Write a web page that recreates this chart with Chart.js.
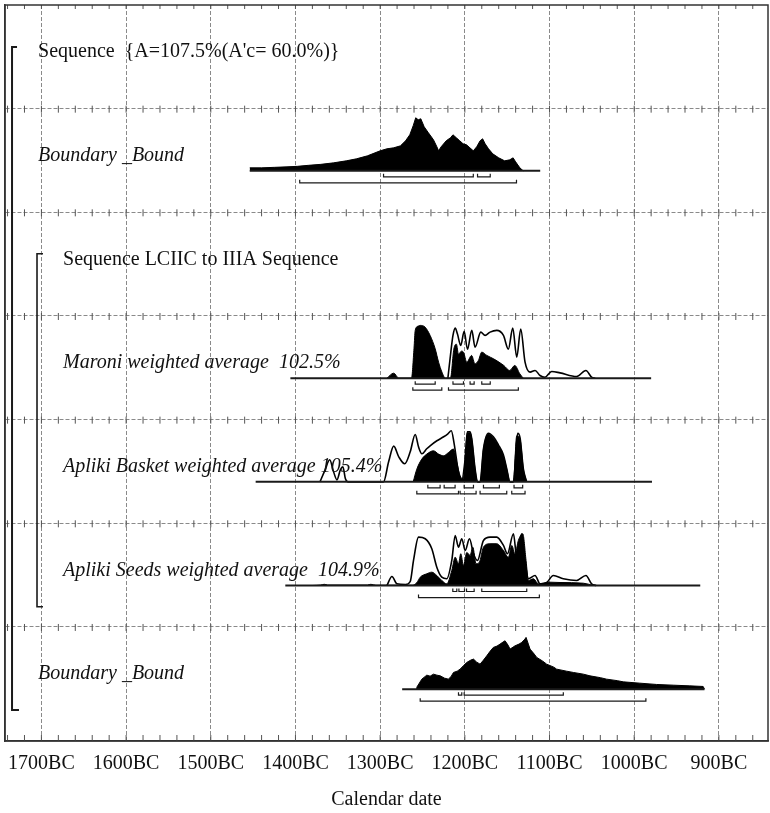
<!DOCTYPE html>
<html>
<head>
<meta charset="utf-8">
<script src="https://cdn.jsdelivr.net/npm/chart.js@4.4.1/dist/chart.umd.min.js"></script>
<style>
  html, body { margin: 0; padding: 0; background: #fff; }
</style>
</head>
<body>
<canvas id="chart" width="770" height="813"></canvas>
<script>
// row labels, top to bottom
const rowLabels = [
    "Sequence  {A=107.5%(A'c= 60.0%)}",
    "Boundary _Bound",
    "Sequence LCIIC to IIIA Sequence",
    "Maroni weighted average  102.5%",
    "Apliki Basket weighted average 105.4%",
    "Apliki Seeds weighted average  104.9%",
    "Boundary _Bound"
];
const rowItalic = [false, true, false, true, true, true, true];
const rowIndent = [0, 0, 1, 1, 1, 1, 0];

// x tick labels (years BC)
const tickYears = [1700, 1600, 1500, 1400, 1300, 1200, 1100, 1000, 900];

// [year BC, probability] pairs
const boundTopPost = [[1454, 3], [1440, 3], [1425, 3.5], [1410, 4], [1398, 4.5], [1385, 5.5], [1370, 6.5], [1355, 8], [1340, 10], [1328, 12], [1315, 15], [1300, 20], [1292, 22], [1284, 23], [1276, 25], [1270, 30], [1265, 36], [1261, 45], [1258, 53], [1255, 51], [1252, 52], [1248, 44], [1243, 38], [1237, 31], [1233, 24], [1231, 20], [1228, 24], [1222, 30], [1217, 33], [1214, 36], [1210, 33], [1206, 30], [1202, 27], [1198, 26], [1194, 23], [1190, 20], [1186, 24], [1182, 30], [1179, 32], [1176, 27], [1172, 22], [1167, 17], [1160, 13], [1153, 10], [1147, 11], [1143, 13], [1140, 9], [1135, 3], [1131, 0]];

const maroniPost = [[1292, 0], [1284, 5], [1278, 0], [1263, 0], [1260, 30], [1258.6, 47.7], [1255, 52], [1252.7, 52.7], [1247, 51], [1241, 42.7], [1235, 29.3], [1231, 16], [1227, 6], [1223, 0], [1217, 0], [1213, 29], [1210, 34], [1207.5, 24], [1204, 27], [1201.6, 26], [1197.7, 16], [1192, 22.7], [1188, 14.3], [1184, 17.7], [1180, 26], [1174, 22.7], [1166, 19.3], [1154, 12.7], [1147, 7.7], [1141, 12.7], [1135, 4.3], [1131, 0]];
const maroniLike = [[1220, 0], [1216, 30], [1214, 42.7], [1211.4, 50], [1208.7, 44], [1204.8, 32.7], [1200.8, 46.7], [1196.9, 29], [1191.8, 47.7], [1187.9, 31], [1181.2, 46], [1176.1, 42.7], [1170.2, 46], [1162.3, 47.7], [1154.4, 42.7], [1148.6, 29], [1143.4, 50], [1138.7, 21], [1134, 49], [1128.9, 16], [1123, 6], [1117.1, 7.7], [1111.2, 2.7], [1105.3, 1], [1097.5, 6.7], [1087.6, 5.3], [1068, 1.7], [1057, 7.7], [1050.3, 1], [1046, 0]];

const basketPost = [[1261, 0], [1256.7, 12.7], [1250.8, 22.7], [1244.9, 27.7], [1237, 31], [1231, 27.7], [1225, 26], [1219.3, 29.3], [1213.4, 32.7], [1209.5, 19.3], [1205.6, 6], [1202, 3], [1199, 30], [1197, 49], [1194, 49], [1191.8, 42.7], [1187.9, 12.7], [1185, 0], [1182, 0], [1178, 32.7], [1172.2, 47.7], [1166.3, 44], [1160.4, 36], [1154.5, 26], [1150.5, 12.7], [1146.6, 0], [1142.7, 0], [1138.7, 46], [1134.8, 42.7], [1130.9, 12.7], [1127, 0]];
const basketLike = [[1371, 0], [1365, 12], [1359.6, 22], [1355, 10], [1351, 2], [1347, 12], [1344, 15], [1341, 3], [1338, 0], [1296, 0], [1290, 20], [1284, 35.7], [1278, 25], [1271, 18], [1264.5, 30], [1258.6, 47.3], [1254.7, 35], [1250.7, 28], [1245, 33], [1241, 36], [1233, 41], [1225, 45], [1220, 48], [1216, 51], [1212.6, 38], [1207.5, 10], [1203.6, 2], [1200, 20], [1197, 50], [1193.8, 50], [1191.8, 43], [1187.9, 13], [1185, 0], [1182, 0], [1178, 33], [1172.2, 48.5], [1166.3, 45], [1160.4, 37], [1154.5, 27], [1150.5, 13], [1146.6, 0], [1142.7, 0], [1137.6, 48.5], [1134.8, 44], [1130.9, 13], [1127, 0]];

const seedsPost = [[1380, 0], [1370, 0.5], [1366, 1.2], [1362, 0.5], [1315, 0.5], [1311, 1.2], [1305, 0.3], [1262, 0.3], [1256.6, 3], [1252.7, 8.3], [1244.9, 11.7], [1239, 13.3], [1233.1, 10], [1227.2, 5], [1221.3, 1.7], [1215.4, 15], [1211.4, 28.3], [1207.5, 21.7], [1204.8, 31.7], [1201.6, 20], [1197.7, 33], [1193.8, 30], [1190.6, 38.3], [1186.7, 21.7], [1182.8, 23.3], [1178, 38.3], [1170.2, 41.7], [1162.3, 41.7], [1154.4, 35], [1148.6, 28.3], [1144.6, 40], [1140.7, 31.7], [1136.8, 45], [1131.6, 51.7], [1127.7, 25], [1124.9, 5], [1119, 6.7], [1113.2, 1.7], [1099.4, 3.3], [1087.6, 3], [1060, 2.3], [1048, 0]];
const seedsLike = [[1292, 0], [1286.1, 9], [1280.2, 1.7], [1270, 1], [1264.5, 4], [1260.6, 25], [1254.7, 48.3], [1246.8, 46.7], [1239, 36.7], [1233.1, 18.3], [1227.2, 8.3], [1221.3, 6.7], [1215.4, 25], [1211.4, 50], [1207.5, 38.3], [1203.6, 46.7], [1199.6, 35], [1194.5, 46.7], [1189.8, 31.7], [1185.1, 25], [1178, 45], [1170.2, 48.3], [1162.3, 48.3], [1154.4, 40], [1149.7, 31.7], [1142.6, 51.7], [1138.7, 28.3], [1132.8, 51.7], [1128.9, 25], [1124.9, 6.7], [1117.1, 10], [1111.2, 1.7], [1103.3, 3], [1095.5, 10], [1083.7, 6.7], [1068, 5], [1057, 10], [1050.3, 1.7], [1045, 0]];

const boundBotPost = [[1257, 0], [1256.7, 2], [1250.8, 10], [1244.9, 14], [1241, 13], [1237, 15], [1233, 14], [1229, 13.3], [1224, 11], [1219.3, 10], [1216, 13], [1213.4, 16.7], [1209, 18], [1205.6, 20], [1201, 24], [1197.7, 26.7], [1193, 29], [1189.8, 30], [1186, 27], [1182, 25], [1178, 29], [1174.1, 33.3], [1170, 38], [1166.3, 41.7], [1162, 43], [1158.4, 45], [1155, 47], [1152.5, 48.3], [1149, 44], [1146.6, 40], [1143, 42], [1140.7, 43.3], [1136, 45], [1132.8, 46.7], [1129, 50], [1127.7, 51.7], [1125, 45], [1123, 40], [1118, 35], [1115.1, 31.7], [1108, 28], [1103.4, 25], [1095, 22], [1091.6, 20], [1080, 18], [1071.9, 16.7], [1060, 15], [1052.2, 13.3], [1040, 11.5], [1032.6, 10], [1020, 8.5], [1012.9, 7.3], [993.3, 6], [973.6, 4.7], [954, 4], [934.3, 3.3], [918.6, 2.7], [917, 0]];

// baseline extent of each row (years BC)
const baseSpans = [null, [1454, 1111], null, [1406, 980], [1447, 979], [1412, 922], [1274, 917]];

// highest posterior density ranges (years BC)
const ranges68 = [null, [[1296, 1190], [1185, 1170]], null,
    [[1258.6, 1235], [1214, 1201.6], [1193.8, 1189], [1180, 1170]],
    [[1243.7, 1229.2], [1224.4, 1211.5], [1200.8, 1189.8], [1178, 1159.2], [1141.9, 1131.7]],
    [[1214.2, 1209.5], [1207, 1200.4], [1198, 1189], [1180, 1126.9]],
    [[1207.5, 1203.6], [1200.8, 1083.7]]];
const ranges95 = [null, [[1395, 1139]], null,
    [[1261.4, 1227.2], [1219.3, 1136.8]],
    [[1256.7, 1207.5], [1205.6, 1186.7], [1182, 1150.5], [1144.6, 1128.9]],
    [[1254.7, 1112]],
    [[1252.7, 986.2]]];

// layout
const ROW_PX = 103.5;
const BASE_OFF = 0.6;
const probScale = 1 / ROW_PX;
const off68 = 6 / ROW_PX, off95 = 12 / ROW_PX, tickUp = 3 / ROW_PX;
const labelX = [1704, 1674.5];
const outerBracket = [[1728.8, 0.406], [1734.7, 0.406], [1734.7, 6.80], [1726.5, 6.80]];
const innerBracket = [[1698.1, 2.40], [1705.2, 2.40], [1705.2, 5.805], [1698.1, 5.805]];

const SERIF = '"Liberation Serif", "Times New Roman", serif';
Chart.defaults.font.family = SERIF;
Chart.defaults.color = "#111";

const toPts = (pairs, row) => pairs.map(([x, p]) => ({ x, y: row + BASE_OFF - p * probScale }));

const datasets = [];
const addPost = (pairs, row, smooth) => datasets.push({
    data: toPts(pairs, row),
    borderColor: "#000",
    backgroundColor: "#000",
    borderWidth: 1,
    fill: { value: row + BASE_OFF },
    cubicInterpolationMode: smooth ? "monotone" : "default",
    tension: 0,
    order: 2
});
const addLike = (pairs, row) => datasets.push({
    data: toPts(pairs, row),
    borderColor: "#000",
    borderWidth: 1.6,
    fill: false,
    cubicInterpolationMode: "monotone",
    order: 1
});
const addLine = (pts, width) => datasets.push({
    data: pts.map(([x, y]) => ({ x, y })),
    borderColor: "#1a1a1a",
    borderWidth: width,
    fill: false,
    tension: 0,
    order: 0
});

addPost(boundTopPost, 1, false);
addPost(maroniPost, 3, true);
addLike(maroniLike, 3);
addPost(basketPost, 4, true);
addLike(basketLike, 4);
addPost(seedsPost, 5, true);
addLike(seedsLike, 5);
addPost(boundBotPost, 6, false);

baseSpans.forEach((span, row) => {
    if (!span) return;
    addLine([[span[0], row + BASE_OFF], [span[1], row + BASE_OFF]], 2);
});
[ranges68, ranges95].forEach((set, k) => {
    set.forEach((list, row) => {
        if (!list) return;
        const y = row + BASE_OFF + (k === 0 ? off68 : off95);
        list.forEach(([a, b]) => addLine([[a, y - tickUp], [a, y], [b, y], [b, y - tickUp]], 1.2));
    });
});
addLine(outerBracket, 2);
addLine(innerBracket, 1.6);

const framePlugin = {
    id: "frame",
    beforeDatasetsDraw(chart) {
        const { ctx, chartArea: a, scales: { x, y } } = chart;
        ctx.save();
        ctx.strokeStyle = "#555";
        ctx.lineWidth = 1;
        for (let v = 860; v <= 1740; v += 20) {
            const px = x.getPixelForValue(v);
            for (let r = 0; r <= 6; r++) {
                const py = y.getPixelForValue(r);
                ctx.beginPath();
                ctx.moveTo(px, r === 0 ? py : py - 3);
                ctx.lineTo(px, py + 4);
                ctx.stroke();
            }
            ctx.beginPath();
            ctx.moveTo(px, a.bottom);
            ctx.lineTo(px, a.bottom - 6);
            ctx.stroke();
        }
        ctx.strokeStyle = "#333";
        ctx.lineWidth = 1.5;
        ctx.strokeRect(a.left, a.top, a.right - a.left, a.bottom - a.top);
        ctx.restore();
    },
    afterDatasetsDraw(chart) {
        const { ctx, scales: { x, y } } = chart;
        ctx.save();
        ctx.fillStyle = "#111";
        ctx.textBaseline = "middle";
        rowLabels.forEach((txt, row) => {
            ctx.font = (rowItalic[row] ? "italic " : "") + "20px " + SERIF;
            ctx.fillText(txt, x.getPixelForValue(labelX[rowIndent[row]]), y.getPixelForValue(row + 0.455));
        });
        ctx.restore();
    }
};

new Chart(document.getElementById("chart").getContext("2d"), {
    type: "line",
    data: { datasets },
    options: {
        responsive: false,
        animation: false,
        layout: { padding: { left: 5, right: 2, top: 5, bottom: 0 } },
        elements: { point: { radius: 0 } },
        plugins: { legend: { display: false }, tooltip: { enabled: false } },
        scales: {
            x: {
                type: "linear",
                reverse: true,
                min: 842,
                max: 1743,
                afterFit: s => { s.paddingLeft = 0; s.paddingRight = 0; },
                border: { display: true, color: "#333", width: 1.5, dash: [4, 2] },
                grid: {
                    drawTicks: false,
                    color: c => (c.tick && c.tick.value % 100 === 0) ? "#8a8a8a" : "transparent",
                    lineWidth: 1
                },
                ticks: {
                    stepSize: 20,
                    includeBounds: false,
                    autoSkip: false,
                    maxRotation: 0,
                    padding: 11,
                    font: { size: 20 },
                    callback: v => tickYears.includes(v) ? v + "BC" : ""
                },
                title: {
                    display: true,
                    text: "Calendar date",
                    font: { size: 20 },
                    padding: { top: 1, bottom: 1 }
                }
            },
            y: {
                type: "linear",
                reverse: true,
                min: 0,
                max: 7.1,
                afterFit: s => { s.width = 0; },
                border: { display: true, color: "#333", width: 1.5, dash: [4, 2] },
                grid: {
                    drawTicks: false,
                    color: c => (c.tick && c.tick.value >= 1 && c.tick.value <= 6) ? "#8a8a8a" : "transparent",
                    lineWidth: 1
                },
                ticks: { display: false, stepSize: 1, includeBounds: false }
            }
        }
    },
    plugins: [framePlugin]
});
</script>
</body>
</html>
